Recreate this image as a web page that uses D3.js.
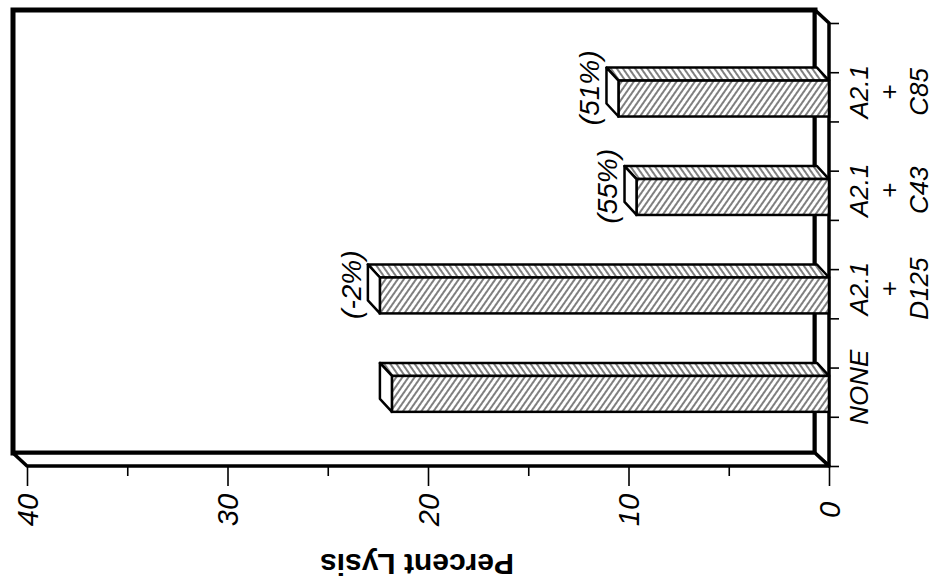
<!DOCTYPE html>
<html>
<head>
<meta charset="utf-8">
<script src="https://cdn.jsdelivr.net/npm/d3@7"></script>
<style>
  html, body { margin: 0; padding: 0; background: #fff; }
  svg { display: block; }
  text { font-family: "Liberation Sans", Arial, Helvetica, sans-serif; fill: #000; }
</style>
</head>
<body>
<svg id="chart" width="939" height="586"></svg>
<script>
// ---- data ----
const categories = ["NONE", "A2.1 + D125", "A2.1 + C43", "A2.1 + C85"];
const categoryLines = [["NONE"], ["A2.1", "+", "D125"], ["A2.1", "+", "C43"], ["A2.1", "+", "C85"]];
const values = [21.8, 22.4, 9.6, 10.5];
const percentLabels = ["", "(-2%)", "(55%)", "(51%)"];
const majorTicks = [0, 10, 20, 30, 40];
const minorTicks = [5, 15, 25, 35];
const axisTitle = "Percent Lysis";

// ---- layout ----
const svg = d3.select("#chart");
const x = d3.scaleLinear().domain([0, 40]).range([829, 27]);
const y = d3.scaleBand().domain(categories).range([466, 23]).paddingInner(0.5).paddingOuter(0.5);
const slots = d3.scaleLinear().domain([0, 9]).range([466, 23]);
const DX = 14, DY = 13;   // wall depth
const BDX = 12, BDY = 13; // bar depth

const defs = svg.append("defs");
function hatch(id, angle) {
  const p = defs.append("pattern").attr("id", id).attr("patternUnits", "userSpaceOnUse")
    .attr("width", 5).attr("height", 10).attr("patternTransform", `rotate(${angle})`);
  p.append("rect").attr("width", 5).attr("height", 10).attr("fill", "#fff");
  p.append("line").attr("x1", 1).attr("x2", 1).attr("y1", 0).attr("y2", 10)
    .attr("stroke", "#000").attr("stroke-width", 1);
}
hatch("hFront", 35);
hatch("hTop", -35);

const x0 = x(0), x40 = x(40);
const yTop = y.range()[1], yBot = y.range()[0];

// back wall
svg.append("rect").attr("x", x40 - DX).attr("y", yTop - DY)
  .attr("width", (x0 - DX) - (x40 - DX)).attr("height", yBot - yTop)
  .attr("fill", "#fff").attr("stroke", "#000").attr("stroke-width", 5);
// right floor panel
svg.append("polygon")
  .attr("points", [[x0 - DX, yTop - DY], [x0, yTop], [x0, yBot], [x0 - DX, yBot - DY]].join(" "))
  .attr("fill", "#fff").attr("stroke", "#000").attr("stroke-width", 3.5).attr("stroke-linejoin", "round");
// bottom side panel
svg.append("polygon")
  .attr("points", [[x40 - DX, yBot - DY], [x40, yBot], [x0, yBot], [x0 - DX, yBot - DY]].join(" "))
  .attr("fill", "#fff").attr("stroke", "#000").attr("stroke-width", 3.5).attr("stroke-linejoin", "round");

// value axis
const gx = svg.append("g").attr("transform", `translate(0,${yBot})`);
gx.call(d3.axisBottom(x).tickValues(majorTicks).tickSizeInner(20).tickSizeOuter(0).tickFormat(d3.format("d")));
gx.select(".domain").remove();
gx.selectAll(".tick line").attr("stroke-width", 1.6);
gx.selectAll(".tick text")
  .attr("y", 0).attr("dy", "0.35em").attr("x", 0)
  .attr("text-anchor", "middle")
  .attr("transform", "translate(0,44) rotate(-90)")
  .style("font-family", "\"Liberation Sans\", Arial, sans-serif")
  .style("font-size", "29px").style("font-style", "italic");
const gxm = svg.append("g").attr("transform", `translate(0,${yBot})`);
gxm.call(d3.axisBottom(x).tickValues(minorTicks).tickSizeInner(10).tickSizeOuter(0).tickFormat(""));
gxm.select(".domain").remove();
gxm.selectAll(".tick line").attr("stroke-width", 1.6);

// category axis ticks
const gy = svg.append("g").attr("transform", `translate(${x0},0)`);
gy.call(d3.axisRight(slots).ticks(9).tickSizeInner(10).tickSizeOuter(0).tickFormat(""));
gy.select(".domain").remove();
gy.selectAll(".tick line").attr("stroke-width", 1.6);

// bars
const bw = y.bandwidth();
const bars = svg.append("g").selectAll("g").data(categories).join("g");
bars.each(function (c, i) {
  const g = d3.select(this);
  const xv = x(values[i]);
  const f0 = y(c) + bw * 0.17, f1 = y(c) + bw * 0.9;
  g.append("polygon")
    .attr("points", [[xv, f0], [xv - BDX, f0 - BDY], [x0 - BDX, f0 - BDY], [x0, f0]].join(" "))
    .attr("fill", "url(#hTop)").attr("stroke", "#000").attr("stroke-width", 2.5).attr("stroke-linejoin", "round");
  g.append("rect").attr("x", xv).attr("y", f0).attr("width", x0 - xv).attr("height", f1 - f0)
    .attr("fill", "url(#hFront)").attr("stroke", "#000").attr("stroke-width", 2.5);
  g.append("polygon")
    .attr("points", [[xv, f0], [xv - BDX, f0 - BDY], [xv - BDX, f1 - BDY], [xv, f1]].join(" "))
    .attr("fill", "#fff").attr("stroke", "#000").attr("stroke-width", 2.5).attr("stroke-linejoin", "round");
  if (percentLabels[i]) {
    const lx = xv - BDX - 17, ly = y(c) + bw / 2 - 9;
    g.append("text").attr("transform", `translate(${lx},${ly}) rotate(-90)`)
      .attr("text-anchor", "middle").attr("dy", "0.35em")
      .style("font-size", "28px").style("font-style", "italic")
      .text(percentLabels[i]);
  }
});

// category labels
const cl = svg.append("g").selectAll("g").data(categories).join("g");
cl.each(function (c, i) {
  const cy = y(c) + bw / 2 - 5;
  categoryLines[i].forEach((t, k) => {
    d3.select(this).append("text")
      .attr("transform", `translate(${859 + k * 30},${cy}) rotate(-90)`)
      .attr("text-anchor", "middle").attr("dy", "0.35em")
      .style("font-size", "26px").style("font-style", t === "+" ? "normal" : "italic")
      .text(t);
  });
});

// axis title
svg.append("text").attr("transform", "translate(417,564) rotate(180)")
  .attr("text-anchor", "middle").attr("dy", "0.35em")
  .style("font-size", "30px").style("font-weight", "bold")
  .text(axisTitle);
</script>
</body>
</html>
